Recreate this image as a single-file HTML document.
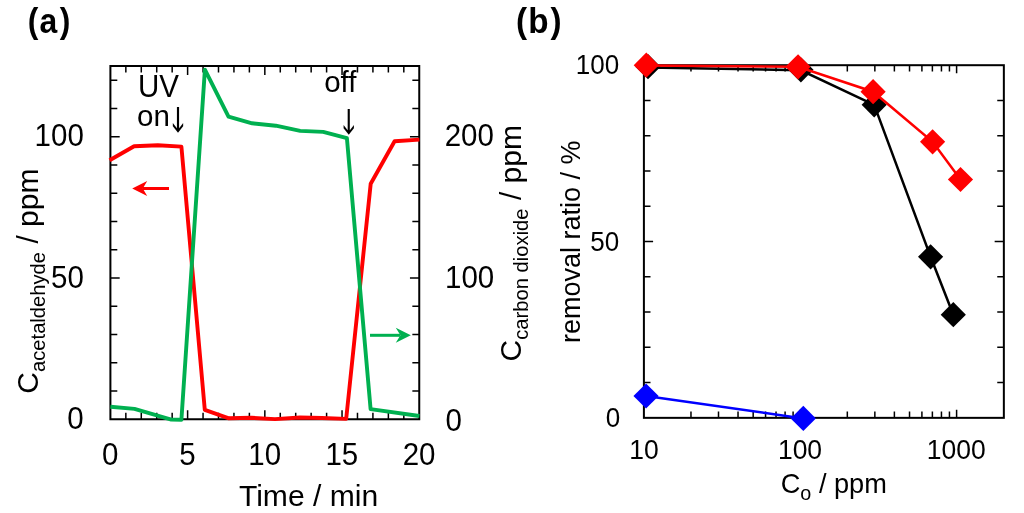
<!DOCTYPE html>
<html lang="en"><head><meta charset="utf-8"><title>Figure: acetaldehyde photocatalytic removal</title>
<style>
html,body{margin:0;padding:0;background:#fff;}
body{width:1024px;height:513px;overflow:hidden;}
svg{display:block;will-change:transform;}
text{font-family:"Liberation Sans", sans-serif;fill:#000;}
.tk{stroke:#000;stroke-width:1.5;fill:none;}
.bx{stroke:#000;stroke-width:2;fill:none;}
</style></head><body>
<svg width="1024" height="513" viewBox="0 0 1024 513">
<rect x="0" y="0" width="1024" height="513" fill="#fff"/>
<g id="panel-a">
<path class="tk" d="M125.84 419.25V412.85M125.84 66.00V72.40M141.28 419.25V412.85M141.28 66.00V72.40M156.73 419.25V412.85M156.73 66.00V72.40M172.17 419.25V412.85M172.17 66.00V72.40M187.61 419.25V410.35M187.61 66.00V74.90M203.06 419.25V412.85M203.06 66.00V72.40M218.50 419.25V412.85M218.50 66.00V72.40M233.94 419.25V412.85M233.94 66.00V72.40M249.38 419.25V412.85M249.38 66.00V72.40M264.83 419.25V410.35M264.83 66.00V74.90M280.27 419.25V412.85M280.27 66.00V72.40M295.71 419.25V412.85M295.71 66.00V72.40M311.15 419.25V412.85M311.15 66.00V72.40M326.60 419.25V412.85M326.60 66.00V72.40M342.04 419.25V410.35M342.04 66.00V74.90M357.48 419.25V412.85M357.48 66.00V72.40M372.92 419.25V412.85M372.92 66.00V72.40M388.37 419.25V412.85M388.37 66.00V72.40M403.81 419.25V412.85M403.81 66.00V72.40M110.40 390.99H117.30M419.25 390.99H412.35M110.40 362.73H117.30M419.25 362.73H412.35M110.40 334.47H117.30M419.25 334.47H412.35M110.40 306.21H117.30M419.25 306.21H412.35M110.40 277.95H119.70M419.25 277.95H409.95M110.40 249.69H117.30M419.25 249.69H412.35M110.40 221.43H117.30M419.25 221.43H412.35M110.40 193.17H117.30M419.25 193.17H412.35M110.40 164.91H117.30M419.25 164.91H412.35M110.40 136.65H119.70M419.25 136.65H409.95M110.40 108.39H117.30M419.25 108.39H412.35M110.40 80.13H117.30M419.25 80.13H412.35"/>
<rect class="bx" x="110.40" y="66.00" width="308.85" height="353.25"/>
<polyline points="109.6,160.3 134.1,146.3 157.8,145.3 181.4,146.6 204.8,409.8 228.9,418.3 251.6,417.8 275.0,419.1 300.0,417.5 321.9,418.0 346.2,418.9 370.7,183.8 394.6,141.2 419.4,139.6" fill="none" stroke="#ff0000" stroke-width="3.9" stroke-linejoin="round"/>
<polyline points="110.4,406.8 134.5,408.9 171.3,419.6 181.4,419.8 204.9,69.6 228.5,116.7 252.1,123.3 275.8,125.7 300.2,130.9 323.2,131.9 346.9,138.2 370.6,409.1 419.4,416.0" fill="none" stroke="#00b050" stroke-width="3.9" stroke-linejoin="round"/>
<path d="M169 188.5H143" stroke="#ff0000" stroke-width="3" fill="none"/>
<path d="M132.2 188.5L147.2 181.0L142.8 188.5L147.2 196.0Z" fill="#ff0000"/>
<path d="M370 335.3H400" stroke="#00b050" stroke-width="3" fill="none"/>
<path d="M410.8 335.3L395.8 327.8L400.4 335.3L395.8 342.8Z" fill="#00b050"/>
<text transform="translate(138 96.8) scale(1 1.045)" font-size="29.5">UV</text>
<text x="137" y="125.6" font-size="29.5">on<tspan font-family='IPAGothic, "IPAPGothic", "Noto Sans CJK JP", "DejaVu Sans", sans-serif' font-size="29" x="163.4" y="130.8">↓</tspan></text>
<text x="324.2" y="91.7" font-size="29.5">off</text>
<text x="334.3" y="132.8" font-size="29" style="font-family:IPAGothic, 'IPAPGothic', 'Noto Sans CJK JP', 'DejaVu Sans', sans-serif">↓</text>
<text transform="translate(83.80 146.40) scale(1 1.045)" font-size="29.5" text-anchor="end">100</text>
<text transform="translate(83.80 287.60) scale(1 1.045)" font-size="29.5" text-anchor="end">50</text>
<text transform="translate(83.60 429.20) scale(1 1.045)" font-size="29.5" text-anchor="end">0</text>
<text transform="translate(444.70 146.40) scale(1 1.045)" font-size="29.5">200</text>
<text transform="translate(445.00 288.20) scale(1 1.045)" font-size="29.5">100</text>
<text transform="translate(445.60 430.60) scale(1 1.045)" font-size="29.5">0</text>
<text transform="translate(110.20 464.90) scale(1 1.045)" font-size="29.5" text-anchor="middle">0</text>
<text transform="translate(187.41 464.90) scale(1 1.045)" font-size="29.5" text-anchor="middle">5</text>
<text transform="translate(264.63 464.90) scale(1 1.045)" font-size="29.5" text-anchor="middle">10</text>
<text transform="translate(341.84 464.90) scale(1 1.045)" font-size="29.5" text-anchor="middle">15</text>
<text transform="translate(419.05 464.90) scale(1 1.045)" font-size="29.5" text-anchor="middle">20</text>
<text x="238.9" y="506.3" font-size="30.1">Time / min</text>
<text transform="translate(37.5 393.7) rotate(-90)" font-size="30">C<tspan font-size="20.2" dy="7.6">acetaldehyde</tspan><tspan dy="-7.6"> / ppm</tspan></text>
<text transform="translate(520.5 361.4) rotate(-90)" font-size="30">C<tspan font-size="20.2" dy="7.6">carbon dioxide</tspan><tspan dy="-7.6"> / ppm</tspan></text>
<text transform="translate(27.65 33.4) scale(0.93 1)" font-size="34.3" font-weight="bold" letter-spacing="1.43">(a<tspan dx="1.3">)</tspan></text>
</g>
<g id="panel-b">
<path class="tk" d="M690.97 417.85V411.55M690.97 65.20V71.50M718.50 417.85V411.55M718.50 65.20V71.50M738.03 417.85V411.55M738.03 65.20V71.50M753.18 417.85V411.55M753.18 65.20V71.50M765.56 417.85V411.55M765.56 65.20V71.50M776.03 417.85V411.55M776.03 65.20V71.50M785.10 417.85V411.55M785.10 65.20V71.50M793.10 417.85V411.55M793.10 65.20V71.50M800.25 417.85V409.85M800.25 65.20V73.20M847.32 417.85V411.55M847.32 65.20V71.50M874.85 417.85V411.55M874.85 65.20V71.50M894.38 417.85V411.55M894.38 65.20V71.50M909.53 417.85V411.55M909.53 65.20V71.50M921.91 417.85V411.55M921.91 65.20V71.50M932.38 417.85V411.55M932.38 65.20V71.50M941.45 417.85V411.55M941.45 65.20V71.50M949.45 417.85V411.55M949.45 65.20V71.50M956.60 417.85V409.85M956.60 65.20V73.20M643.90 382.59H650.50M1003.85 382.59H997.25M643.90 347.32H650.50M1003.85 347.32H997.25M643.90 312.06H650.50M1003.85 312.06H997.25M643.90 276.79H650.50M1003.85 276.79H997.25M643.90 241.53H653.10M1003.85 241.53H994.65M643.90 206.26H650.50M1003.85 206.26H997.25M643.90 171.00H650.50M1003.85 171.00H997.25M643.90 135.73H650.50M1003.85 135.73H997.25M643.90 100.46H650.50M1003.85 100.46H997.25"/>
<rect class="bx" x="643.90" y="65.20" width="359.95" height="352.65"/>
<polyline points="648.0,67.4 800.9,70.3 874.2,104.8 930.6,256.8 953.3,314.7" fill="none" stroke="#000" stroke-width="2.5"/>
<path d="M635.40 66.70L648.00 54.10L660.60 66.70L648.00 79.30Z" fill="#000"/>
<path d="M788.30 69.80L800.90 57.20L813.50 69.80L800.90 82.40Z" fill="#000"/>
<path d="M861.60 104.80L874.20 92.20L886.80 104.80L874.20 117.40Z" fill="#000"/>
<path d="M918.00 256.80L930.60 244.20L943.20 256.80L930.60 269.40Z" fill="#000"/>
<path d="M940.70 314.70L953.30 302.10L965.90 314.70L953.30 327.30Z" fill="#000"/>
<polyline points="646.0,396.0 803.3,418.4" fill="none" stroke="#0000ff" stroke-width="2.5"/>
<path d="M633.45 396.00L646.05 383.40L658.65 396.00L646.05 408.60Z" fill="#0000ff"/>
<path d="M790.70 418.40L803.30 405.80L815.90 418.40L803.30 431.00Z" fill="#0000ff"/>
<polyline points="646.3,65.6 798.0,66.8 873.1,91.7 932.6,141.8 960.5,179.5" fill="none" stroke="#ff0000" stroke-width="2.5"/>
<path d="M633.70 65.20L646.30 52.60L658.90 65.20L646.30 77.80Z" fill="#ff0000"/>
<path d="M785.45 66.80L798.05 54.20L810.65 66.80L798.05 79.40Z" fill="#ff0000"/>
<path d="M860.50 91.65L873.10 79.05L885.70 91.65L873.10 104.25Z" fill="#ff0000"/>
<path d="M920.00 141.85L932.60 129.25L945.20 141.85L932.60 154.45Z" fill="#ff0000"/>
<path d="M947.90 179.50L960.50 166.90L973.10 179.50L960.50 192.10Z" fill="#ff0000"/>
<text transform="translate(619.20 74.40) scale(1 1.045)" font-size="26.0" text-anchor="end">100</text>
<text transform="translate(619.20 250.60) scale(1 1.045)" font-size="26.0" text-anchor="end">50</text>
<text transform="translate(620.20 427.30) scale(1 1.045)" font-size="26.0" text-anchor="end">0</text>
<text transform="translate(629.20 459.40) scale(1 1.045)" font-size="26.5">10</text>
<text transform="translate(777.90 459.40) scale(1 1.045)" font-size="26.5">100</text>
<text transform="translate(926.70 459.40) scale(1 1.045)" font-size="26.5">1000</text>
<text x="780.7" y="493.1" font-size="27.2">C<tspan font-size="19.8" dy="6.6">o</tspan><tspan dy="-6.6"> / ppm</tspan></text>
<text transform="translate(579.6 343.0) rotate(-90)" font-size="27.0">removal ratio / %</text>
<text transform="translate(516.1 33.3) scale(0.97 1)" font-size="34.3" font-weight="bold" letter-spacing="1.2">(b<tspan dx="0.6">)</tspan></text>
</g>
</svg>
</body></html>
